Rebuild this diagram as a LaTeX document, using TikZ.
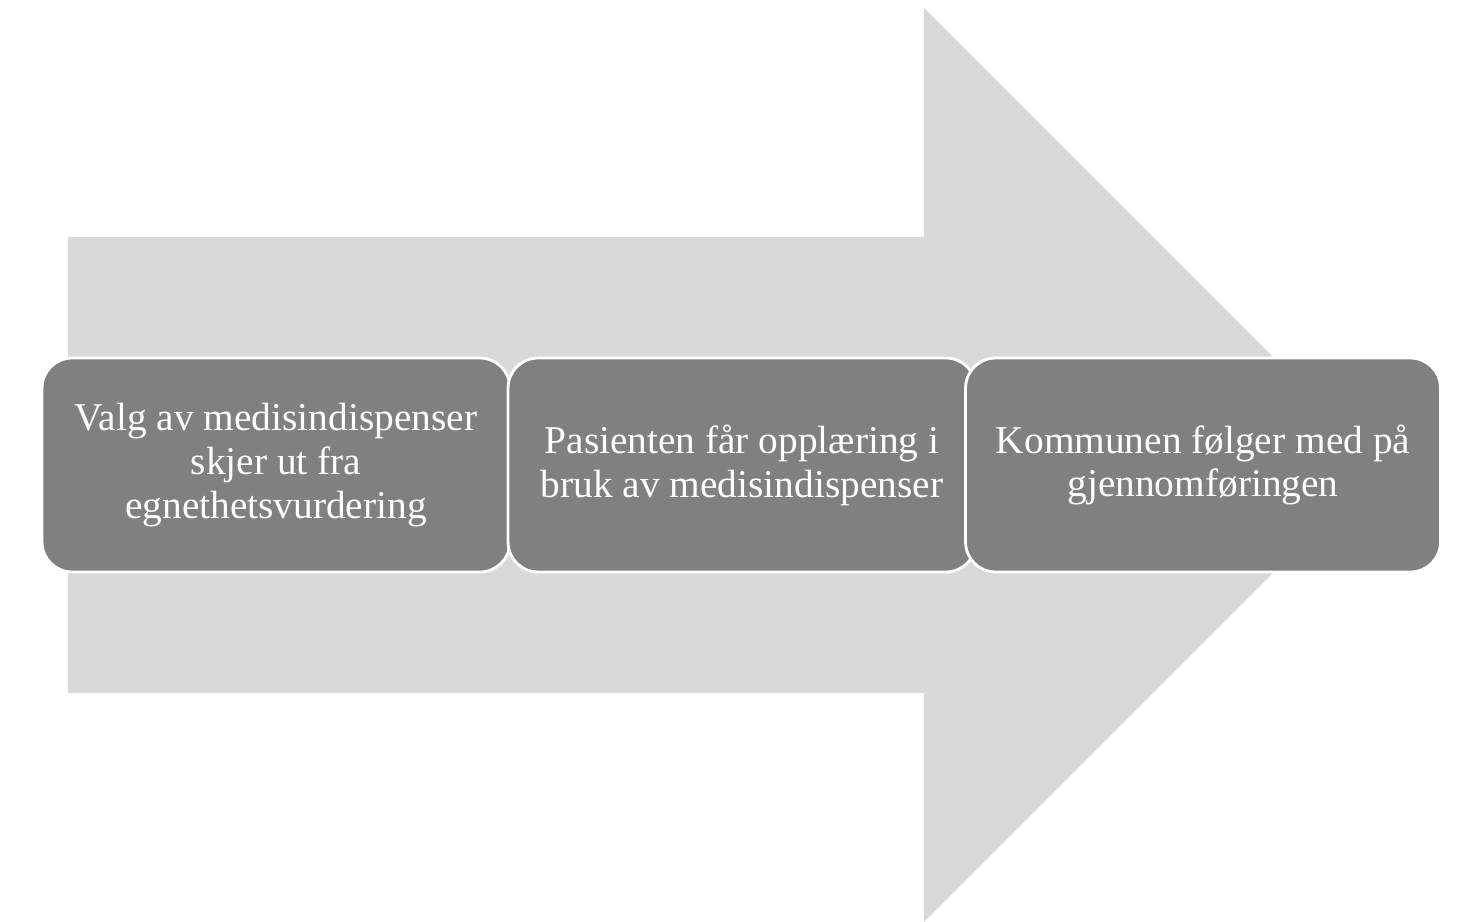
\documentclass[tikz,border=0pt]{standalone}
\usepackage{fontspec}
\setmainfont{Liberation Serif}
\usepackage{tikz}
\definecolor{arrowgray}{HTML}{D9D9D9}
\definecolor{boxgray}{HTML}{808080}
\tikzset{stepbox/.style={draw=white, line width=1.6pt, fill=boxgray, rounded corners=0.6cm,
  minimum width=9.36cm, minimum height=4.28cm, text=white, align=center,
  font=\fontsize{22.4}{25}\selectfont}}

\begin{document}
\begin{tikzpicture}[x=0.02cm, y=-0.02cm]
\useasboundingbox (0,0) rectangle (1459,922);
\fill[arrowgray] (68,237) -- (924,237) -- (924,8) -- (1381,465) -- (924,922) -- (924,693) -- (68,693) -- cycle;
\node[stepbox] (valg) at (276,465) {Valg av medisindispenser\\skjer ut fra\\egnethetsvurdering};
\node[stepbox] (opplaering) at (742,465) {Pasienten får opplæring i\\bruk av medisindispenser};
\node[stepbox, minimum width=9.5cm] (oppfolging) at (1203,465) {Kommunen følger med på\\gjennomføringen};
\end{tikzpicture}
\end{document}
